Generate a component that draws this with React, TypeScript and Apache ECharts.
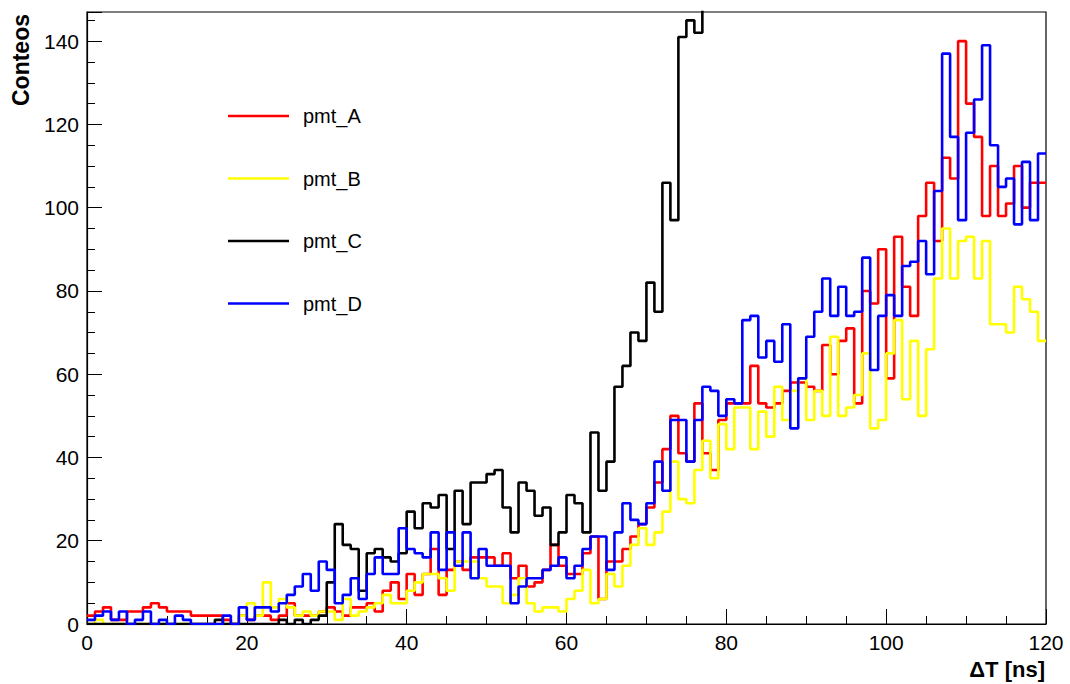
import React, { useEffect, useRef } from "react";
import * as echarts from "echarts";

// Bin contents, 1 ns bins starting at 0 ns
const pmtA = [2, 3, 4, 1, 1, 3, 3, 4, 5, 4, 3, 3, 3, 2, 2, 2, 2, 1, 0, 2,
  1, 2, 2, 1, 2, 5, 2, 2, 2, 3, 4, 3, 2, 4, 4, 5, 3, 8, 10, 6,
  12, 7, 12, 18, 7, 13, 15, 13, 16, 16, 16, 14, 17, 11, 14, 9, 10, 13, 19, 14,
  12, 12, 17, 21, 6, 15, 15, 18, 21, 24, 28, 34, 42, 50, 41, 39, 53, 41, 37, 49,
  53, 53, 53, 62, 53, 52, 53, 56, 58, 58, 57, 56, 67, 60, 68, 71, 53, 80, 77, 90,
  59, 93, 81, 74, 98, 106, 92, 112, 107, 140, 125, 117, 98, 110, 98, 101, 110, 100, 106, 106];
const pmtB = [0, 1, 0, 0, 0, 0, 0, 0, 0, 0, 0, 0, 0, 0, 0, 0, 0, 0, 0, 2,
  5, 2, 10, 4, 6, 4, 2, 3, 2, 3, 3, 1, 6, 2, 3, 4, 5, 7, 5, 5,
  8, 10, 12, 12, 11, 8, 15, 15, 15, 11, 9, 9, 5, 7, 11, 5, 3, 4, 4, 3,
  6, 8, 13, 5, 6, 12, 9, 14, 19, 23, 19, 22, 27, 39, 30, 29, 37, 44, 35, 48,
  42, 52, 52, 42, 51, 45, 57, 49, 56, 59, 49, 56, 50, 69, 50, 52, 55, 65, 47, 49,
  65, 73, 54, 68, 50, 66, 83, 95, 83, 92, 93, 83, 92, 72, 72, 70, 81, 78, 75, 68];
const pmtC = [0, 0, 0, 0, 0, 0, 0, 0, 0, 0, 0, 0, 0, 0, 0, 0, 1, 0, 0, 0,
  0, 0, 0, 0, 1, 0, 1, 0, 1, 2, 10, 24, 19, 18, 8, 17, 18, 16, 15, 17,
  27, 23, 29, 28, 31, 18, 32, 24, 34, 34, 36, 37, 28, 22, 34, 32, 26, 28, 19, 22,
  31, 29, 22, 46, 32, 39, 57, 62, 70, 68, 82, 75, 106, 97, 141, 145, 142, 170];
const pmtD = [1, 2, 3, 1, 3, 0, 1, 3, 0, 1, 0, 2, 1, 0, 0, 0, 0, 2, 0, 4,
  1, 4, 4, 3, 5, 7, 9, 12, 8, 15, 13, 5, 7, 11, 6, 12, 16, 12, 12, 23,
  18, 17, 16, 22, 13, 22, 14, 22, 11, 18, 14, 14, 14, 5, 9, 11, 11, 13, 14, 16,
  11, 14, 18, 21, 21, 13, 22, 29, 25, 24, 29, 39, 32, 49, 49, 39, 49, 57, 56, 50,
  54, 53, 73, 74, 64, 68, 63, 72, 47, 59, 69, 75, 83, 74, 81, 74, 75, 88, 61, 74,
  79, 74, 86, 87, 92, 84, 104, 137, 117, 97, 118, 126, 139, 115, 105, 107, 96, 111, 97, 113];

const names = ["pmt_A", "pmt_B", "pmt_C", "pmt_D"];
const colors = ["#ff0000", "#ffff00", "#000000", "#0000ff"];
const xTicks = [0, 20, 40, 60, 80, 100, 120];
const binWidth = 1;

const toSteps = (vals: number[], closeAt: number | null) => {
  const pts: number[][] = vals.map((v, i) => [i * binWidth, v]);
  if (closeAt !== null) pts.push([closeAt, vals[vals.length - 1]]);
  return pts;
};

export default function App() {
  const ref = useRef<HTMLDivElement>(null);
  useEffect(() => {
    if (!ref.current) return;
    const chart = echarts.init(ref.current, null, { renderer: "svg" });
    const font = "Liberation Sans";
    const series = [pmtA, pmtB, pmtC, pmtD].map((vals, k) => ({
      name: names[k],
      type: "line",
      step: "end",
      data: toSteps(vals, k === 2 ? null : xTicks[xTicks.length - 1]),
      showSymbol: false,
      symbol: "none",
      lineStyle: { color: colors[k], width: 2.6 },
      itemStyle: { color: colors[k] },
      clip: true,
      z: 2 + k,
    }));
    chart.setOption({
      animation: false,
      backgroundColor: "#ffffff",
      grid: {
        left: 87, right: 24, top: 12, bottom: 60,
        show: true, borderColor: "#000", borderWidth: 1.2, backgroundColor: "transparent",
      },
      legend: {
        orient: "vertical",
        left: 228,
        top: 106,
        padding: 0,
        itemWidth: 61,
        itemHeight: 2.5,
        itemGap: 42.5,
        icon: "rect",
        selectedMode: false,
        data: names,
        textStyle: {
          fontFamily: font, fontSize: 20, color: "#000", lineHeight: 20,
          padding: [0, 0, 0, 9],
        },
      },
      xAxis: {
        type: "value",
        min: xTicks[0],
        max: xTicks[xTicks.length - 1],
        interval: 20,
        axisLine: { show: true, lineStyle: { color: "#000", width: 1.2 } },
        axisTick: { show: true, inside: true, length: 15, lineStyle: { color: "#000", width: 1 } },
        minorTick: { show: true, splitNumber: 4, length: 8, lineStyle: { color: "#000", width: 1 } },
        splitLine: { show: false },
        axisLabel: { fontFamily: font, fontSize: 21, color: "#000", margin: 8 },
      },
      yAxis: {
        type: "value",
        min: 0,
        max: 147,
        interval: 20,
        axisLine: { show: true, lineStyle: { color: "#000", width: 1.2 } },
        axisTick: { show: true, inside: true, length: 15, lineStyle: { color: "#000", width: 1 } },
        minorTick: { show: true, splitNumber: 4, length: 8, lineStyle: { color: "#000", width: 1 } },
        splitLine: { show: false },
        axisLabel: {
          fontFamily: font, fontSize: 21, color: "#000", margin: 8, showMaxLabel: false,
          formatter: (v: number) => (v % 20 === 0 ? String(v) : ""),
        },
      },
      graphic: [
        {
          type: "text",
          x: 21, y: 14, rotation: Math.PI / 2,
          style: {
            text: "Conteos", fontFamily: font, fontWeight: "bold", fontSize: 23,
            fill: "#000", align: "right", verticalAlign: "middle",
          },
        },
        {
          type: "text",
          x: 1045, y: 669,
          style: {
            text: "ΔT [ns]", fontFamily: font, fontWeight: "bold", fontSize: 22,
            fill: "#000", align: "right", verticalAlign: "middle",
          },
        },
      ],
      series,
    });
    return () => chart.dispose();
  }, []);
  return <div ref={ref} style={{ position: "absolute", left: 0, top: 0, width: 1070, height: 684 }} />;
}
